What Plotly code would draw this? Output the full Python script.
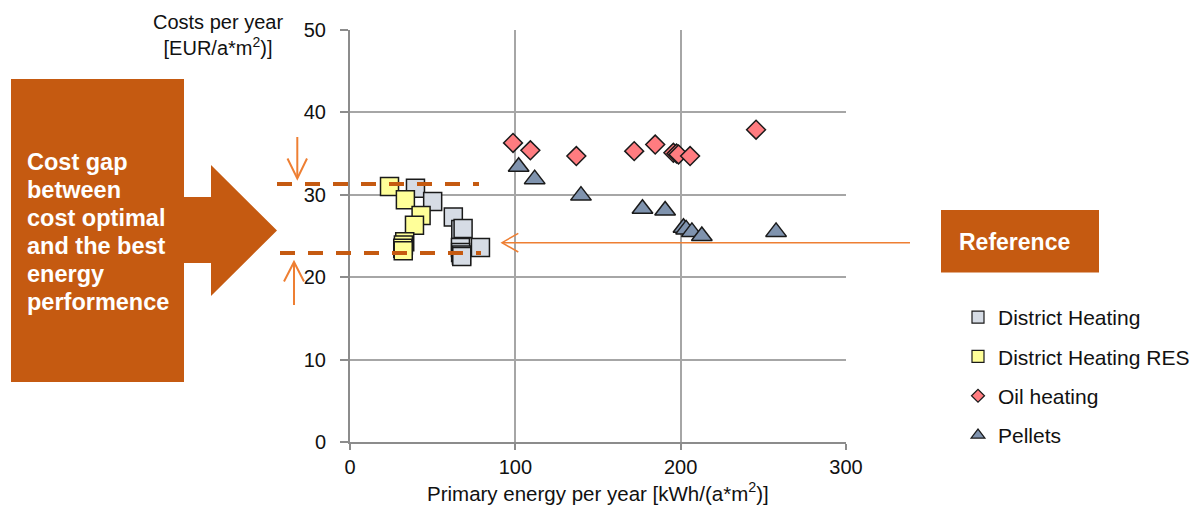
import plotly.graph_objects as go

# ---------------- data ----------------
dh_x = [39.6, 50.0, 62.5, 67.0, 68.4, 66.8, 78.9, 66.9, 67.4, 67.6]
dh_y = [30.8, 29.2, 27.3, 25.8, 25.9, 23.6, 23.6, 23.0, 22.7, 22.5]

dhres_x = [23.9, 33.5, 43.0, 39.0, 33.1, 32.3, 31.9, 32.2]
dhres_y = [31.0, 29.4, 27.5, 26.3, 24.3, 23.9, 23.5, 23.2]

oil_x = [98.6, 109.1, 136.9, 171.9, 184.6, 195.6, 197.5, 198.7, 205.7, 245.6]
oil_y = [36.3, 35.4, 34.7, 35.3, 36.1, 35.1, 35.0, 34.9, 34.7, 37.9]

pel_x = [102.0, 111.7, 139.7, 176.9, 190.6, 201.7, 203.3, 206.8, 212.8, 257.7]
pel_y = [33.4, 31.9, 29.9, 28.3, 28.1, 26.0, 25.8, 25.5, 25.0, 25.5]

series_names = ["District Heating", "District Heating RES", "Oil heating", "Pellets"]
gap_levels = [31.3, 22.95]  # cost optimal vs best energy performance
x_ticks = [0, 100, 200, 300]
y_ticks = [0, 10, 20, 30, 40, 50]

box_lines = ["Cost gap", "between", "cost optimal", "and the best", "energy", "performence"]

# ---------------- layout helpers ----------------
W_PX, H_PX = 1193, 506
L, R, T, B = 350, 846, 30, 442
PW, PH = R - L, B - T


def px(x):
    return (x - L) / PW


def py(y):
    return (B - y) / PH


FONT = "Liberation Sans, Arial, sans-serif"
DARK_OR = "#C55A11"
LIGHT_OR = "#EE7F33"

fig = go.Figure()

styles = [
    dict(symbol="square", color="#D6DCE5", size=18, lsize=12),
    dict(symbol="square", color="#FFFF99", size=18, lsize=12),
    dict(symbol="diamond", color="#FF7C80", size=14.5, lsize=10),
    dict(symbol="triangle-up", color="#7F93AE", size=18, lsize=12),
]
data = [(dh_x, dh_y), (dhres_x, dhres_y), (oil_x, oil_y), (pel_x, pel_y)]

for (xs, ys), st, nm in zip(data, styles, series_names):
    fig.add_trace(go.Scatter(
        x=xs, y=ys, mode="markers", name=nm, showlegend=False,
        marker=dict(symbol=st["symbol"], color=st["color"], size=st["size"],
                    line=dict(color="#1a1a1a", width=1.5)),
        cliponaxis=False,
    ))

# legend-only traces (small symbols)
for i, (st, nm) in enumerate(zip(styles, series_names)):
    fig.add_trace(go.Scatter(
        x=[None], y=[None], mode="markers", name=nm, legendgroup=f"g{i}",
        marker=dict(symbol=st["symbol"], color=st["color"], size=st["lsize"],
                    line=dict(color="#1a1a1a", width=1.2)),
    ))

shapes = []
# big orange box with arrow
pts = [(11, 79), (184, 79), (184, 197), (211, 197), (211, 165), (277, 230.5),
       (211, 296), (211, 263), (184, 263), (184, 382), (11, 382)]
path = "M " + " L ".join(f"{px(a):.5f},{py(b):.5f}" for a, b in pts) + " Z"
shapes.append(dict(type="path", xref="paper", yref="paper", path=path,
                   fillcolor=DARK_OR, line=dict(width=0)))
# Reference box
shapes.append(dict(type="rect", xref="paper", yref="paper",
                   x0=px(941), x1=px(1099), y0=py(272.5), y1=py(210),
                   fillcolor=DARK_OR, line=dict(width=0)))
# dashed gap lines
shapes.append(dict(type="line", xref="paper", yref="y", x0=px(277), x1=px(479),
                   y0=gap_levels[0], y1=gap_levels[0],
                   line=dict(color=DARK_OR, width=4, dash="15px,13px")))
shapes.append(dict(type="line", xref="paper", yref="y", x0=px(280), x1=px(481),
                   y0=gap_levels[1], y1=gap_levels[1],
                   line=dict(color=DARK_OR, width=4, dash="15px,13px")))
# small arrows (open heads)
def arrow_path(pts_):
    return "M " + " L ".join(f"{px(a):.5f},{py(b):.5f}" for a, b in pts_)

shapes.append(dict(type="path", xref="paper", yref="paper",
                   path=arrow_path([(297.3, 137), (297.3, 178)]),
                   line=dict(color=LIGHT_OR, width=2)))
shapes.append(dict(type="path", xref="paper", yref="paper",
                   path=arrow_path([(287.5, 158.5), (297.3, 178.5), (307, 158.5)]),
                   line=dict(color=LIGHT_OR, width=2)))
shapes.append(dict(type="path", xref="paper", yref="paper",
                   path=arrow_path([(294, 305), (294, 263)]),
                   line=dict(color=LIGHT_OR, width=2)))
shapes.append(dict(type="path", xref="paper", yref="paper",
                   path=arrow_path([(284, 281.5), (294, 262), (304, 281.5)]),
                   line=dict(color=LIGHT_OR, width=2)))
# reference arrow
shapes.append(dict(type="path", xref="paper", yref="paper",
                   path=arrow_path([(910, 242.7), (502.5, 242.7)]),
                   line=dict(color=LIGHT_OR, width=1.5)))
shapes.append(dict(type="path", xref="paper", yref="paper",
                   path=arrow_path([(518.3, 233.3), (502, 242.7), (518.3, 252)]),
                   line=dict(color=LIGHT_OR, width=1.5)))

annotations = []
baselines = [169, 197, 225, 253, 281, 308.5]
for txt, bl in zip(box_lines, baselines):
    annotations.append(dict(
        text=f"<b>{txt}</b>", xref="paper", yref="paper", x=px(25), y=py(bl - 7),
        xanchor="left", yanchor="middle", showarrow=False,
        font=dict(family=FONT, size=23.5, color="white")))
annotations.append(dict(
    text="<b>Reference</b>", xref="paper", yref="paper", x=px(1014.5), y=py(241.5),
    xanchor="center", yanchor="middle", showarrow=False,
    font=dict(family=FONT, size=23, color="white")))
annotations.append(dict(
    text="Costs per year<br>[EUR/a*m<sup>2</sup>)]", xref="paper", yref="paper",
    x=px(217.5), y=py(35), xanchor="center", yanchor="middle", showarrow=False,
    align="center", font=dict(family=FONT, size=20, color="#111")))
annotations.append(dict(
    text="Primary energy per year [kWh/(a*m<sup>2</sup>)]", xref="paper", yref="paper",
    x=px(598), y=py(492), xanchor="center", yanchor="middle", showarrow=False,
    font=dict(family=FONT, size=20.5, color="#111")))

fig.update_layout(
    width=W_PX, height=H_PX,
    margin=dict(l=L, r=W_PX - R, t=T, b=H_PX - B, pad=0, autoexpand=False),
    paper_bgcolor="white", plot_bgcolor="white",
    font=dict(family=FONT, size=20, color="#111"),
    shapes=shapes, annotations=annotations,
    legend=dict(x=px(958), y=py(297), xanchor="left", yanchor="top",
                font=dict(family=FONT, size=21, color="#111"),
                tracegroupgap=9, itemwidth=30, bgcolor="rgba(0,0,0,0)"),
    xaxis=dict(range=[0, 300], tickvals=x_ticks, ticks="outside", ticklen=6,
               tickcolor="#8C8C8C", tickwidth=2,
               showgrid=True, gridcolor="#A6A6A6", gridwidth=1.5,
               showline=True, linecolor="#8C8C8C", linewidth=2,
               zeroline=False, fixedrange=True,
               tickfont=dict(family=FONT, size=20, color="#111")),
    yaxis=dict(range=[0, 50], tickvals=y_ticks, ticks="outside", ticklen=8,
               tickcolor="#8C8C8C", tickwidth=2,
               showgrid=True, gridcolor="#A6A6A6", gridwidth=1.5,
               showline=True, linecolor="#8C8C8C", linewidth=2,
               zeroline=False, fixedrange=True, ticklabelstandoff=10,
               tickfont=dict(family=FONT, size=20, color="#111")),
)

fig.write_html("out.html")
